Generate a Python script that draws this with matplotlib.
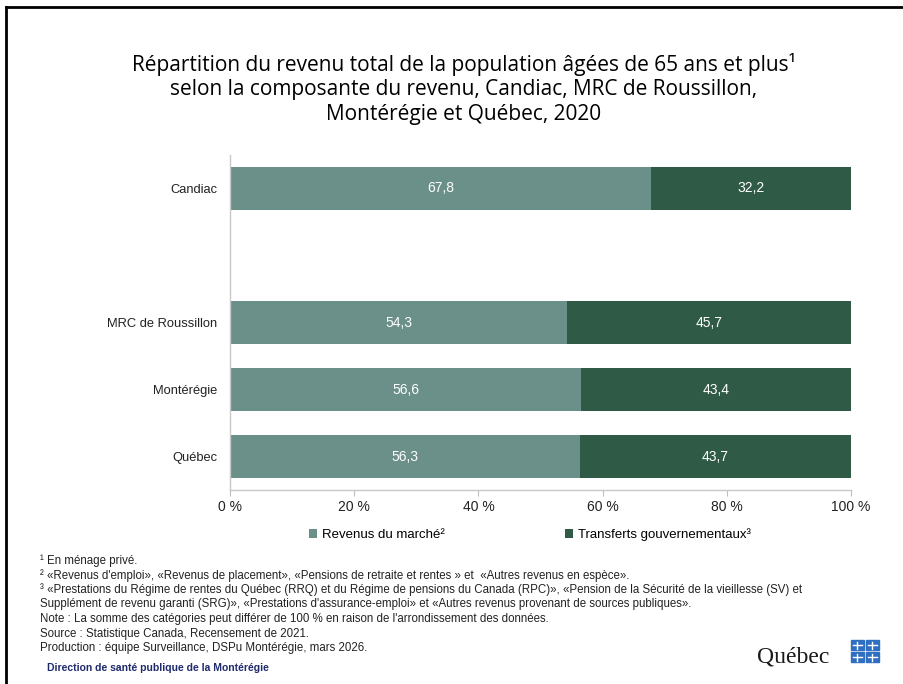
import numpy as np
import matplotlib.pyplot as plt
from matplotlib.lines import Line2D
from matplotlib.patches import Rectangle

# data
regions = ['Candiac', '', 'MRC de Roussillon', 'Montérégie', 'Québec']
marche = [67.8, np.nan, 54.3, 56.6, 56.3]
transferts = [32.2, np.nan, 45.7, 43.4, 43.7]
series_names = ['Revenus du marché²', 'Transferts gouvernementaux³']
xticks = [0, 20, 40, 60, 80, 100]

col_light = '#6a9089'
col_dark = '#2f5a45'

plt.rcParams['font.family'] = ['Liberation Sans', 'DejaVu Sans']

fig = plt.figure(figsize=(9.04, 6.84), dpi=100)
ax = fig.add_axes([0.2544, 0.2836, 0.687, 0.4898])

y = np.arange(len(regions))
m = np.nan_to_num(marche)
t = np.nan_to_num(transferts)
b1 = ax.barh(y, m, height=0.63, color=col_light, label=series_names[0])
b2 = ax.barh(y, t, left=m, height=0.63, color=col_dark, label=series_names[1])

for i in range(len(regions)):
    if np.isnan(marche[i]):
        continue
    ax.text(m[i] / 2, y[i], f'{marche[i]:.1f}'.replace('.', ','), ha='center', va='center',
            color='white', fontsize=10)
    ax.text(m[i] + t[i] / 2, y[i], f'{transferts[i]:.1f}'.replace('.', ','), ha='center',
            va='center', color='white', fontsize=10)

ax.set_ylim(4.5, -0.5)
ax.set_xlim(0, 100)
ax.set_yticks(y)
ax.set_yticklabels(regions, fontsize=9.3, color='#222222')
ax.set_xticks(xticks)
ax.set_xticklabels([f'{v} %' for v in xticks], fontsize=10, color='#222222')
ax.tick_params(axis='y', length=0, pad=9)
ax.tick_params(axis='x', length=4, color='#bfbfbf', pad=3)
for s in ['top', 'right']:
    ax.spines[s].set_visible(False)
for s in ['left', 'bottom']:
    ax.spines[s].set_color('#c8c8c8')
    ax.spines[s].set_linewidth(1)

leg = fig.legend(handles=[b1, b2], loc='center', bbox_to_anchor=(0.586, 0.218), ncol=2,
                 frameon=False, fontsize=9.5, handlelength=0.6, handleheight=0.6,
                 handletextpad=0.4, columnspacing=9.1)

fig.text(0.513, 0.870, 'Répartition du revenu total de la population âgées de 65 ans et plus¹\n'
         'selon la composante du revenu, Candiac, MRC de Roussillon,\n'
         'Montérégie et Québec, 2020', ha='center', va='center', fontsize=15,
         linespacing=1.2, family=['Open Sans', 'DejaVu Sans'])

notes = ['¹ En ménage privé.',
         '² «Revenus d\'emploi», «Revenus de placement», «Pensions de retraite et rentes » et  «Autres revenus en espèce».',
         '³ «Prestations du Régime de rentes du Québec (RRQ) et du Régime de pensions du Canada (RPC)», «Pension de la Sécurité de la vieillesse (SV) et',
         'Supplément de revenu garanti (SRG)», «Prestations d\'assurance-emploi» et «Autres revenus provenant de sources publiques».',
         'Note : La somme des catégories peut différer de 100 % en raison de l\'arrondissement des données.',
         'Source : Statistique Canada, Recensement de 2021.',
         'Production : équipe Surveillance, DSPu Montérégie, mars 2026.']
for k, line in enumerate(notes):
    fig.text(40 / 904, 1 - (561 + k * 14.5) / 684, line, ha='left', va='center', fontsize=8.3,
             color='#222222')

fig.text(47 / 904, 1 - 668 / 684, 'Direction de santé publique de la Montérégie', ha='left',
         va='center', fontsize=7.5, color='#1f2a6b', fontweight='bold')

# logo
fig.text(757 / 904, 1 - 657 / 684, 'Québec', ha='left', va='center', fontsize=17,
         color='#1a1a1a', family=['Liberation Serif', 'DejaVu Serif'])
for dx in [0, 1]:
    for dy in [0, 1]:
        x0 = (851 + dx * 15) / 904
        y0 = 1 - (662 - dy * 12) / 684
        fig.patches.append(Rectangle((x0, y0), 13 / 904, 10 / 684, transform=fig.transFigure,
                                     color='#2f6fc1', zorder=5))
        fig.lines.append(Line2D([x0 + 6.5 / 904] * 2, [y0 + 1.5 / 684, y0 + 8.5 / 684],
                                transform=fig.transFigure, color='white', lw=1, zorder=6))
        fig.lines.append(Line2D([x0 + 2 / 904, x0 + 11 / 904], [y0 + 5 / 684] * 2,
                                transform=fig.transFigure, color='white', lw=1, zorder=6))

# slide border
fig.lines.append(Line2D([6 / 904, 6 / 904], [0, 1 - 7 / 684], transform=fig.transFigure,
                        color='black', lw=2))
fig.lines.append(Line2D([6 / 904, 1], [1 - 7 / 684, 1 - 7 / 684], transform=fig.transFigure,
                        color='black', lw=2))

fig.savefig('out.png', dpi=100)
